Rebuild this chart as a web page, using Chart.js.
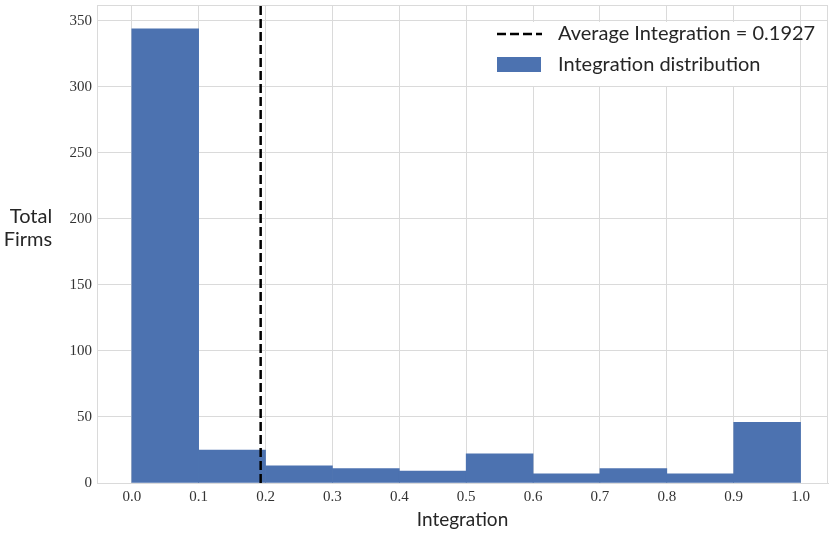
<!DOCTYPE html>
<html>
<head>
<meta charset="utf-8">
<script src="https://cdn.jsdelivr.net/npm/chart.js@4.4.0/dist/chart.umd.min.js"></script>
<style>
  html, body { margin: 0; padding: 0; background: #fff; }
  #wrap { width: 829px; height: 533px; position: relative; }
</style>
</head>
<body>
<div id="wrap"><canvas id="hist"></canvas></div>
<script>
// histogram bins (centre of each 0.1 wide bin) and counts
const binCenters = [0.05, 0.15, 0.25, 0.35, 0.45, 0.55, 0.65, 0.75, 0.85, 0.95];
const firmCounts = [344, 25, 13, 11, 9, 22, 7, 11, 7, 46];
const avgIntegration = 0.1927;
const xTicks = [0.0, 0.1, 0.2, 0.3, 0.4, 0.5, 0.6, 0.7, 0.8, 0.9, 1.0];
const yTicks = [0, 50, 100, 150, 200, 250, 300, 350];
const yTitleLines = ["Total", "Firms"];

const Y_MAX = 362;
const GRID = "#dadada";
const SANS = "Lato, 'Open Sans', sans-serif";
const SERIF = "'Liberation Serif', serif";

document.addEventListener("DOMContentLoaded", function () {
    const ctx = document.getElementById("hist").getContext("2d");

    // frame on top/right + y title + legend box
    const extras = {
        id: "extras",
        beforeDatasetsDraw(chart) {
            const a = chart.chartArea;
            const c = chart.ctx;
            c.save();
            c.strokeStyle = GRID;
            c.lineWidth = 1;
            c.strokeRect(a.left + 0.5, a.top + 0.5, a.right - a.left - 1, a.bottom - a.top);
            c.restore();
        },
        afterDraw(chart) {
            const c = chart.ctx;
            const ds = chart.data.datasets;
            c.save();
            // y axis title, horizontal, two lines
            c.fillStyle = "#262626";
            c.font = "20px " + SANS;
            c.textAlign = "center";
            c.textBaseline = "alphabetic";
            c.fillText(yTitleLines[0], 31, 223);
            c.fillText(yTitleLines[1], 28, 246);

            // legend
            c.fillStyle = "#fff";
            c.fillRect(482, 22, 312, 64);
            c.strokeStyle = "#000";
            c.lineWidth = 2.5;
            c.setLineDash([9, 4]);
            c.beginPath();
            c.moveTo(497, 34);
            c.lineTo(542, 34);
            c.stroke();
            c.setLineDash([]);
            c.fillStyle = ds[1].backgroundColor;
            c.fillRect(497, 57, 44, 15);
            c.fillStyle = "#262626";
            c.font = "20px " + SANS;
            c.textAlign = "left";
            c.textBaseline = "middle";
            c.fillText(ds[0].label, 558, 34);
            c.fillText(ds[1].label, 558, 65);
            c.restore();
        }
    };

    new Chart(ctx, {
        data: {
            datasets: [{
                type: "line",
                label: "Average Integration = " + avgIntegration,
                data: [{ x: avgIntegration, y: 0 }, { x: avgIntegration, y: Y_MAX }],
                borderColor: "#000",
                borderWidth: 2.5,
                borderDash: [9, 4],
                pointRadius: 0,
                order: 0
            }, {
                type: "bar",
                label: "Integration distribution",
                data: binCenters.map((x, i) => ({ x: x, y: firmCounts[i] })),
                backgroundColor: "#4C72B0",
                borderWidth: 0,
                barPercentage: 1,
                categoryPercentage: 1,
                order: 1
            }]
        },
        options: {
            responsive: true,
            maintainAspectRatio: false,
            animation: false,
            layout: { padding: { left: 0, top: 5, right: 1, bottom: 0 } },
            plugins: {
                legend: { display: false },
                tooltip: { enabled: false }
            },
            scales: {
                x: {
                    type: "linear",
                    offset: false,
                    min: -0.052,
                    max: 1.041,
                    afterBuildTicks: s => { s.ticks = xTicks.map(v => ({ value: v })); },
                    afterFit: s => {
                        s.height = 50;
                        s.paddingLeft = 0;
                        s.paddingRight = 0;
                    },
                    grid: { color: GRID, drawTicks: false, offset: false },
                    border: { color: GRID },
                    ticks: {
                        autoSkip: false,
                        maxRotation: 0,
                        padding: 5,
                        color: "#333",
                        font: { family: SERIF, size: 15 },
                        callback: v => v.toFixed(1)
                    },
                    title: {
                        display: true,
                        text: "Integration",
                        color: "#262626",
                        font: { family: SANS, size: 19, lineHeight: 1.2 },
                        padding: { top: 0, bottom: 2 }
                    }
                },
                y: {
                    min: 0,
                    max: Y_MAX,
                    afterBuildTicks: s => { s.ticks = yTicks.map(v => ({ value: v })); },
                    afterFit: s => {
                        s.width = 97;
                        s.paddingTop = 0;
                        s.paddingBottom = 0;
                    },
                    grid: { color: GRID, drawTicks: false },
                    border: { color: GRID },
                    ticks: {
                        padding: 5,
                        color: "#333",
                        font: { family: SERIF, size: 15 }
                    }
                }
            }
        },
        plugins: [extras]
    });
});
</script>
</body>
</html>
